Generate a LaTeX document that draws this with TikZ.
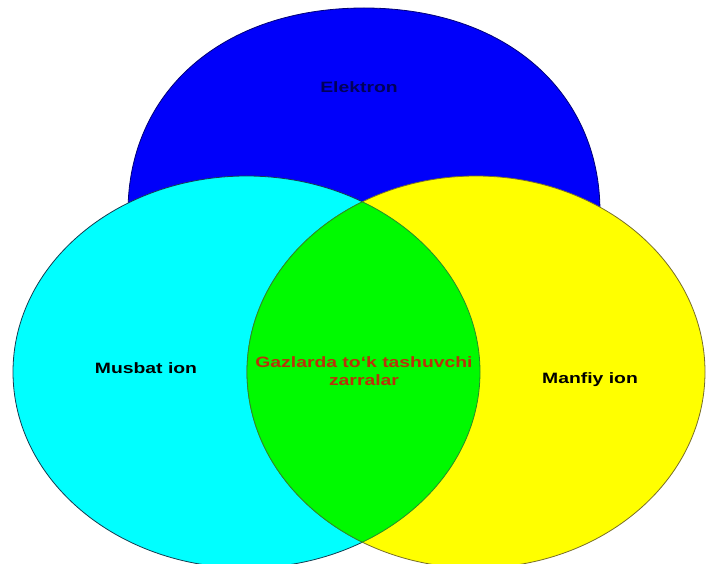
\documentclass[tikz,border=0pt]{standalone}
\usepackage{fontspec}
\setmainfont{Liberation Sans}
\newfontfamily\lblfont[FakeStretch=1.29]{Liberation Sans}
\definecolor{cblue}{RGB}{0,0,250}
\definecolor{ccyan}{RGB}{0,255,255}
\definecolor{cyellow}{RGB}{255,255,0}
\definecolor{cgreen}{RGB}{0,250,0}
\definecolor{blueline}{RGB}{0,0,120}
\definecolor{cyanline}{RGB}{20,60,80}
\definecolor{yellowline}{RGB}{120,110,40}
\definecolor{greenline}{RGB}{40,140,40}
\definecolor{redtext}{RGB}{185,50,10}
\definecolor{navytext}{RGB}{0,0,90}
\begin{document}
\begin{tikzpicture}[x=1pt,y=-1pt,
  lbl/.style={font=\lblfont\bfseries\fontsize{15}{18}\selectfont, inner sep=0pt, align=center},
  edge/.style={line width=0.8pt}]
\useasboundingbox (0,0) rectangle (707,564);
\fill[white] (0,0) rectangle (707,564);
\clip (0,0) rectangle (707,564);
% blue (Elektron)
\filldraw[fill=cblue, draw=blueline, edge]
  (128,212) .. controls (128,92) and (222,8) .. (364,8)
  .. controls (506,8) and (600,92) .. (600,212)
  .. controls (600,330) and (480,400) .. (364,400)
  .. controls (248,400) and (128,330) .. (128,212) -- cycle;
% cyan (Musbat ion)
\filldraw[fill=ccyan, draw=cyanline, edge] (246.5,372) ellipse [x radius=233.5, y radius=196];
% yellow (Manfiy ion)
\filldraw[fill=cyellow, draw=yellowline, edge] (476,372) ellipse [x radius=229, y radius=196];
% green intersection
\begin{scope}
  \clip (246.5,372) ellipse [x radius=233.5, y radius=196];
  \filldraw[fill=cgreen, draw=greenline, edge] (476,372) ellipse [x radius=229, y radius=196];
\end{scope}
\begin{scope}
  \clip (476,372) ellipse [x radius=229, y radius=196];
  \draw[greenline, edge] (246.5,372) ellipse [x radius=233.5, y radius=196];
\end{scope}
% labels
\node[lbl, text=navytext, anchor=base] (elektron) at (359,93) {Elektron};
\node[lbl, text=black, anchor=base] (musbat) at (146,373) {Musbat ion};
\node[lbl, text=redtext] (gaz) at (364,371) {Gazlarda to‘k tashuvchi\\zarralar};
\node[lbl, text=black, anchor=base] (manfiy) at (590,383) {Manfiy ion};
\end{tikzpicture}
\end{document}
